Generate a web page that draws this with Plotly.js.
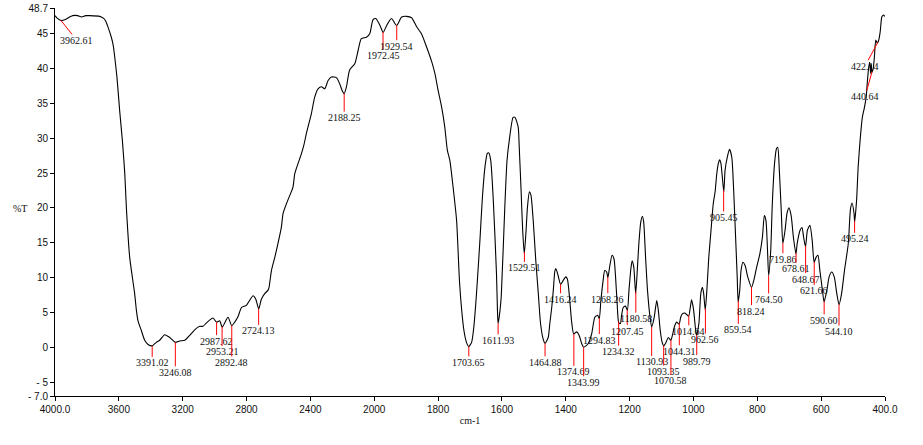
<!DOCTYPE html>
<html><head><meta charset="utf-8">
<script src="https://cdn.plot.ly/plotly-3.0.1.min.js"></script>
<style>html,body{margin:0;padding:0;background:#fff;}#chart{width:923px;height:445px;}</style>
</head><body><div id="chart"></div>
<script>
// Spectrum: wavenumber (cm-1) and transmittance (%T)
const wavenumbers = [4000,3985,3962,3939,3908,3889,3858,3833,3808,3783,3720,3695,3682,3670,3647,3635,3626,3612,3595,3578,3563,3553,3532,3501,3490,3480,3459,3438,3417,3391,3380,3365,3344,3313,3281,3246,3219,3187,3156,3125,3093,3073,3051,3010,2988,2968,2953,2916,2893,2874,2853,2832,2801,2784,2759,2742,2724,2707,2686,2665,2659,2644,2623,2603,2582,2571,2550,2529,2509,2498,2477,2456,2441,2425,2404,2394,2373,2352,2331,2310,2289,2268,2237,2216,2200,2188,2174,2154,2122,2101,2081,2049,2028,2008,1995,1982,1972,1961,1946,1930,1914,1899,1883,1867,1852,1836,1820,1810,1800,1789,1779,1771,1763,1753,1742,1733,1726,1719,1711,1704,1695,1688,1682,1677,1669,1661,1653,1646,1641,1635,1627,1617,1614,1612,1606,1602,1591,1584,1577,1565,1559,1549,1546,1540,1535,1530,1525,1520,1514,1509,1502,1494,1486,1479,1471,1465,1455,1450,1444,1439,1434,1431,1424,1416,1408,1400,1395,1387,1382,1375,1366,1358,1350,1344,1330,1319,1309,1300,1295,1290,1283,1278,1272,1268,1262,1255,1249,1244,1239,1234,1229,1225,1220,1213,1207,1202,1196,1192,1187,1181,1176,1171,1165,1160,1156,1150,1144,1136,1131,1123,1115,1110,1104,1098,1093,1086,1079,1071,1066,1060,1053,1045,1040,1035,1027,1015,1010,1006,1000,993,990,983,977,972,968,963,958,952,945,938,932,927,922,918,914,905,901,894,887,880,874,868,863,860,855,851,845,838,830,818,811,802,792,784,778,773,768,764.5,758,753,746,740,736,731,725,720,713,707,701,694,687,679,675,666,660,655,649,643,635,628,622,616,610,604,596,591,582,575,567,559,551,544,536,527,515,508,503,497,495,489,484,478,471,465,459,455,451,448,445,443,441,437,433,429,425,422,419,415,410,405,401];
const transmittance = [47.6,47.2,46.9,47.0,47.4,47.6,47.6,47.4,47.6,47.6,47.5,47.2,46.8,46.1,44.5,43.3,41.7,38.8,34.0,29.7,25.0,20.1,12.9,7.7,5.3,3.8,2.4,1.0,0.4,0.2,0.4,0.7,1.0,1.8,1.4,0.7,0.9,1.0,1.7,2.5,3.0,3.0,3.5,4.2,3.6,3.8,2.9,4.3,3.1,3.6,4.4,5.7,6.0,6.6,7.4,6.9,5.5,6.9,7.7,8.2,8.6,11.0,12.9,14.9,17.2,19.2,20.6,21.8,23.0,24.9,26.4,27.8,29.0,30.7,32.6,33.5,35.9,37.1,37.4,37.1,38.3,38.8,38.7,37.8,36.8,36.4,37.4,39.8,40.7,42.6,44.3,44.5,45.0,47.0,47.2,46.2,45.2,46.2,47.2,46.2,47.4,47.5,47.3,46.0,45.0,43.1,41.0,39.3,36.9,34.5,31.6,28.3,26.8,23.0,18.2,9.5,5.3,2.4,0.7,0.1,0.7,2.9,6.2,9.5,15.3,21.6,25.9,27.8,27.9,26.8,21.1,10.5,5.3,3.4,5.3,7.4,20.1,26.8,29.7,33.0,33.0,31.6,29.0,22.5,16.8,13.4,16.3,20.1,22.3,21.8,18.2,12.5,7.7,3.4,1.2,0.55,1.4,3.4,5.7,8.2,11.0,11.3,10.3,9.0,9.6,10.1,9.8,6.5,3.8,1.9,2.2,1.7,0.5,0.0,0.5,1.9,4.3,4.6,4.1,6.7,9.6,11.0,10.8,10.0,11.7,13.2,12.7,10.1,6.2,3.5,3.4,4.6,5.7,5.9,5.3,8.2,11.3,12.4,11.5,7.7,11.0,14.9,18.0,18.8,18.0,12.9,8.2,4.3,2.9,4.3,6.7,5.3,2.4,0.7,0.2,0.7,1.4,1.0,1.7,2.9,3.6,3.3,4.3,4.8,4.9,4.5,5.7,6.8,5.5,2.4,1.7,3.4,7.7,8.6,7.7,5.3,8.2,12.9,16.8,20.6,22.4,24.9,26.4,26.9,26.4,22.3,25.4,27.3,28.4,27.3,22.5,15.8,10.1,6.5,8.2,11.0,12.2,11.7,10.1,8.6,9.6,11.5,13.4,15.8,18.9,18.2,13.9,10.3,13.9,20.6,26.4,28.5,28.7,25.4,19.6,14.9,16.8,19.2,20.0,18.9,15.8,13.4,14.9,16.8,17.2,15.8,14.4,16.8,17.5,15.3,12.2,12.9,13.2,11.0,8.2,6.5,8.2,10.1,10.8,10.1,7.7,6.1,7.7,11.0,14.9,19.9,20.7,19.2,18.0,21.1,25.9,29.7,33.0,34.3,35.9,38.3,40.2,40.9,39.3,40.6,39.5,40.0,41.8,44.1,43.7,43.8,44.2,45.3,47.4,47.7,47.5];

// Labelled peaks (cm-1)
const peakWavenumbers = [3962.61,3391.02,3246.08,2987.62,2953.21,2892.48,2724.13,2188.25,1972.45,1929.54,1703.65,1611.93,1529.51,1464.88,1416.24,1374.69,1343.99,1294.83,1268.26,1234.32,1207.45,1180.58,1130.93,1093.35,1070.58,1044.31,1014.64,989.79,962.56,905.45,859.54,818.24,764.50,719.86,678.61,648.67,621.66,590.60,544.10,495.24,440.64,422.14];

// Axis ticks
const xTickWavenumbers = [4000,3600,3200,2800,2400,2000,1800,1600,1400,1200,1000,800,600,400];
const xTickLabels = ["4000.0","3600","3200","2800","2400","2000","1800","1600","1400","1200","1000","800","600","400.0"];
const yTickValues = [-7,-5,0,5,10,15,20,25,30,35,40,45,48.7];
const yTickLabels = ["- 7.0","- 5","0","5","10","15","20","25","30","35","40","45","48.7"];

// Layout: label offsets (pixels) from the curve point
const labelDx = [16,0,0,0,0,0,0,0,0,0,0,0,0,0,0,0,0,0,0,0,0,0,0,0,0,0,0,0,0,0,0,0,0,0,0,0,0,0,0,0,-7,-13];
const labelDy = [20,17,30,19,25,37,22,24,23,21,16,17,16,19,15,38,35,22,22,30,21,27,35,26,41,28,16,26,31,27,29,24,24,16,16,33,29,19,27,18,25,24];

// Scale change at 2000 cm-1: above it the axis is compressed by half
function axisPos(w){ return w <= 2000 ? w : 2000 + (w - 2000) / 2; }
function curveAt(w){
  for (let i = 0; i < wavenumbers.length - 1; i++){
    const a = wavenumbers[i], b = wavenumbers[i+1];
    if (w <= a && w >= b){
      const t = (a - w) / (a - b);
      return transmittance[i] + t * (transmittance[i+1] - transmittance[i]);
    }
  }
  return transmittance[transmittance.length-1];
}

const trace = {
  x: wavenumbers.map(axisPos), y: transmittance,
  type: 'scatter', mode: 'lines',
  line: {color: '#000', width: 1.1, shape: 'spline', smoothing: 0.6},
  hoverinfo: 'skip'
};

const annotations = peakWavenumbers.map((w, i) => ({
  x: axisPos(w), y: curveAt(w), xref: 'x', yref: 'y',
  text: w.toFixed(2), showarrow: true, arrowhead: 0, arrowwidth: 1,
  arrowcolor: '#ff0000', ax: labelDx[i], ay: labelDy[i], standoff: 0,
  font: {family: 'Liberation Serif, serif', size: 10, color: '#111'},
  borderpad: 0
}));
annotations.push({
  xref: 'paper', yref: 'paper', x: -0.042, y: 0.482, text: '%T', showarrow: false,
  xanchor: 'center', yanchor: 'middle',
  font: {family: 'Liberation Serif, serif', size: 10, color: '#111'}
});

const layout = {
  width: 923, height: 445,
  margin: {l: 55, r: 38, t: 8, b: 49},
  paper_bgcolor: '#fff', plot_bgcolor: '#fff',
  showlegend: false,
  xaxis: {
    range: [axisPos(4000), axisPos(400)],
    tickvals: xTickWavenumbers.map(axisPos), ticktext: xTickLabels,
    showgrid: false, zeroline: false, showline: true, linecolor: '#000', linewidth: 1,
    ticks: 'outside', ticklen: 4, tickcolor: '#000',
    tickfont: {family: 'Liberation Sans, sans-serif', size: 10, color: '#111'},
    title: {text: 'cm-1', standoff: 2, font: {family: 'Liberation Serif, serif', size: 10, color: '#111'}},
    automargin: false
  },
  yaxis: {
    range: [-7, 48.7],
    tickvals: yTickValues, ticktext: yTickLabels,
    showgrid: false, zeroline: false, showline: true, linecolor: '#000', linewidth: 1,
    ticks: 'outside', ticklen: 4, tickcolor: '#000',
    tickfont: {family: 'Liberation Sans, sans-serif', size: 10, color: '#111'},
    automargin: false
  },
  annotations: annotations
};

Plotly.newPlot('chart', [trace], layout, {staticPlot: true, displayModeBar: false});
</script></body></html>
